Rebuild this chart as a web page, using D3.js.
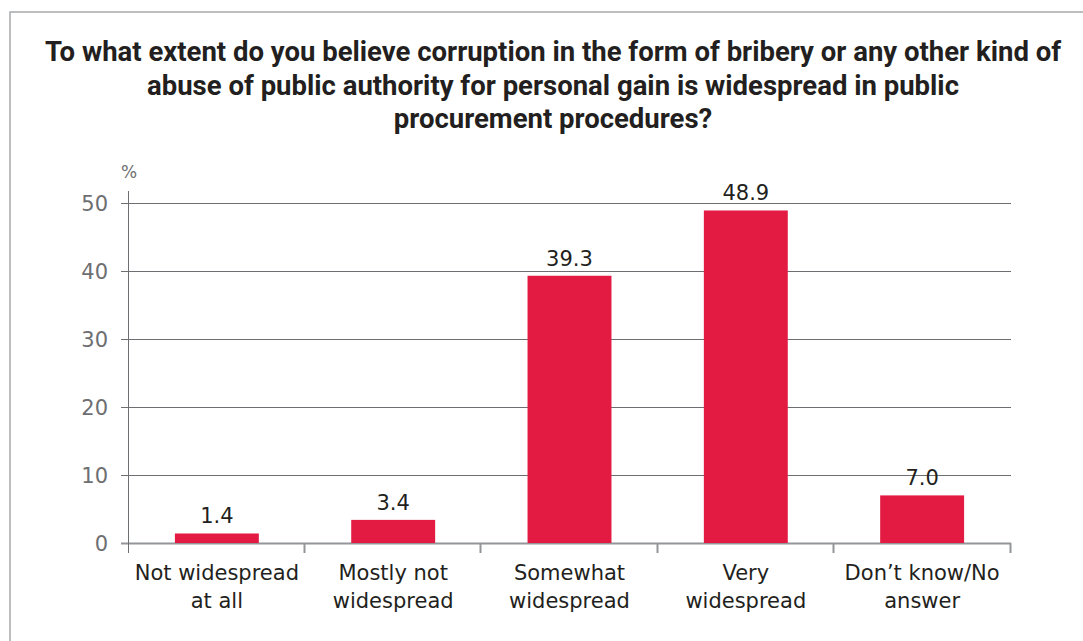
<!DOCTYPE html>
<html lang="en">
<head>
<meta charset="utf-8">
<title>Corruption in public procurement</title>
<style>
  body { margin: 0; background: #fff; }
  svg { display: block; font-family: "DejaVu Sans", sans-serif; }
  .title { font-family: "Roboto", sans-serif; font-weight: bold; font-size: 27.5px; fill: #231f20; }
  .ytick text { fill: #6d6e71; font-size: 21px; }
  .xlab { fill: #231f20; font-size: 21px; }
  .val { fill: #231f20; font-size: 21px; }
</style>
</head>
<body>
<script src="https://d3js.org/d3.v7.min.js"></script>
<script>
var categories = [["Not widespread", "at all"], ["Mostly not", "widespread"], ["Somewhat", "widespread"], ["Very", "widespread"], ["Don\u2019t know/No", "answer"]];
var values = [1.4, 3.4, 39.3, 48.9, 7.0];
var yTicks = [0, 10, 20, 30, 40, 50];
var titleLines = [
  "To what extent do you believe corruption in the form of bribery or any other kind of",
  "abuse of public authority for personal gain is widespread in public",
  "procurement procedures?"
];

var width = 1083, height = 641;
var plotLeft = 128, plotRight = 1011, plotTop = 203, plotBottom = 543;

var svg = d3.select("body").append("svg")
    .attr("width", width)
    .attr("height", height);

// frame
svg.append("path")
    .attr("d", "M10," + height + "V12H" + width)
    .attr("fill", "none")
    .attr("stroke", "#a7a9ac")
    .attr("stroke-width", 1.5);

svg.selectAll(".title")
    .data(titleLines)
  .enter().append("text")
    .attr("class", "title")
    .attr("x", 553)
    .attr("y", function(d, i) { return 61 + i * 33.5; })
    .attr("text-anchor", "middle")
    .text(function(d) { return d; });

var idx = d3.range(values.length);
var x = d3.scaleBand().domain(idx).range([plotLeft, plotRight]).paddingInner(0.524).paddingOuter(0.266);
var y = d3.scaleLinear().domain([0, 50]).range([plotBottom, plotTop]);

// gridlines + y ticks
var yt = svg.selectAll(".ytick")
    .data(yTicks)
  .enter().append("g")
    .attr("class", "ytick")
    .attr("transform", function(d) { return "translate(0," + (Math.round(y(d)) + 0.5) + ")"; });

yt.append("line")
    .attr("x1", plotLeft - 7)
    .attr("x2", plotRight)
    .attr("stroke", function(d) { return d === 0 ? "#939598" : "#6d6e71"; })
    .attr("stroke-width", function(d) { return d === 0 ? 2 : 1; });

yt.append("text")
    .attr("x", plotLeft - 20)
    .attr("dy", "0.36em")
    .attr("text-anchor", "end")
    .text(function(d) { return d; });

// y axis line
svg.append("line")
    .attr("x1", plotLeft + 0.5).attr("x2", plotLeft + 0.5)
    .attr("y1", plotTop - 12).attr("y2", plotBottom + 10)
    .attr("stroke", "#6d6e71");

svg.append("text")
    .attr("x", 129)
    .attr("y", 178)
    .attr("text-anchor", "middle")
    .attr("fill", "#6d6e71")
    .attr("font-size", 17)
    .text("%");

// category separators
var step = (plotRight - plotLeft) / values.length;
var seps = d3.range(1, values.length + 1).map(function(i) { return plotLeft + i * step; });
svg.selectAll(".sep")
    .data(seps)
  .enter().append("line")
    .attr("x1", function(d) { return Math.round(d) - 0.5; })
    .attr("x2", function(d) { return Math.round(d) - 0.5; })
    .attr("y1", plotBottom)
    .attr("y2", plotBottom + 10)
    .attr("stroke", "#939598")
    .attr("stroke-width", 2);

// bars
svg.selectAll(".bar")
    .data(values)
  .enter().append("rect")
    .attr("x", function(d, i) { return x(i); })
    .attr("width", x.bandwidth())
    .attr("y", function(d) { return y(d); })
    .attr("height", function(d) { return plotBottom - y(d); })
    .attr("fill", "#e31b43");

svg.selectAll(".val")
    .data(values)
  .enter().append("text")
    .attr("class", "val")
    .attr("x", function(d, i) { return x(i) + x.bandwidth() / 2; })
    .attr("y", function(d) { return y(d) - 10; })
    .attr("text-anchor", "middle")
    .text(function(d) { return d.toFixed(1); });

// x labels
var xl = svg.selectAll(".xlab")
    .data(categories)
  .enter().append("text")
    .attr("class", "xlab")
    .attr("x", function(d, i) { return x(i) + x.bandwidth() / 2; })
    .attr("y", 580)
    .attr("text-anchor", "middle");

xl.selectAll("tspan")
    .data(function(d) { return d; })
  .enter().append("tspan")
    .attr("x", function() { return d3.select(this.parentNode).attr("x"); })
    .attr("dy", function(d, i) { return i === 0 ? 0 : 28; })
    .text(function(d) { return d; });
</script>
</body>
</html>
